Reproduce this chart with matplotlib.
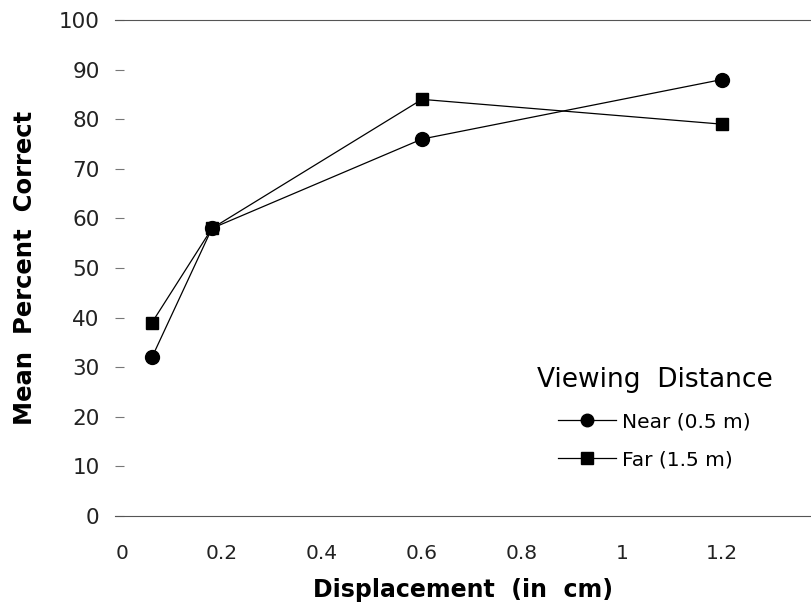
import matplotlib
matplotlib.use("Agg")
import matplotlib.pyplot as plt

# data
displacement = [0.06, 0.18, 0.6, 1.2]
near_pct = [32, 58, 76, 88]
far_pct = [39, 58, 84, 79]
xtick_vals = [0, 0.2, 0.4, 0.6, 0.8, 1, 1.2]
xtick_labels = ["0", "0.2", "0.4", "0.6", "0.8", "1", "1.2"]
ytick_vals = [0, 10, 20, 30, 40, 50, 60, 70, 80, 90, 100]

plt.rcParams['font.family'] = ['DejaVu Sans']

fig = plt.figure(figsize=(8.11, 6.04), dpi=100)
ax = fig.add_axes([115 / 811, 88 / 604, 696 / 811, 496 / 604])

ax.plot(displacement, near_pct, color='black', lw=0.9, marker='o',
        markersize=10, label='Near (0.5 m)', clip_on=False)
ax.plot(displacement, far_pct, color='black', lw=0.9, marker='s',
        markersize=9, label='Far (1.5 m)', clip_on=False)

ax.set_xlim(-0.014, 1.378)
ax.set_ylim(0, 100)

ax.spines['left'].set_visible(False)
ax.spines['right'].set_visible(False)
for s in ['top', 'bottom']:
    ax.spines[s].set_color('#555555')
    ax.spines[s].set_linewidth(0.8)

ax.set_xticks(xtick_vals)
ax.set_xticklabels(xtick_labels)
ax.set_yticks(ytick_vals)
ax.tick_params(axis='x', length=0, pad=20, labelsize=14.5, colors='#222222')
ax.tick_params(axis='y', direction='in', length=6.5, width=0.8, color='#777777',
               pad=11, labelsize=15.5, labelcolor='#222222')

ax.set_ylabel("Mean  Percent  Correct", fontsize=17.5, fontweight='bold', labelpad=16)
ax.set_xlabel("Displacement  (in  cm)", fontsize=17, fontweight='bold', labelpad=11)

leg = ax.legend(loc='upper center', bbox_to_anchor=(0.775, 0.337),
                frameon=False, fontsize=14.5, handlelength=2.9, handletextpad=0.3,
                labelspacing=0.95, title="Viewing  Distance",
                title_fontproperties={'size': 19}, markerscale=0.9)
leg._legend_box.align = 'center'

fig.savefig("out.png", dpi=100)
